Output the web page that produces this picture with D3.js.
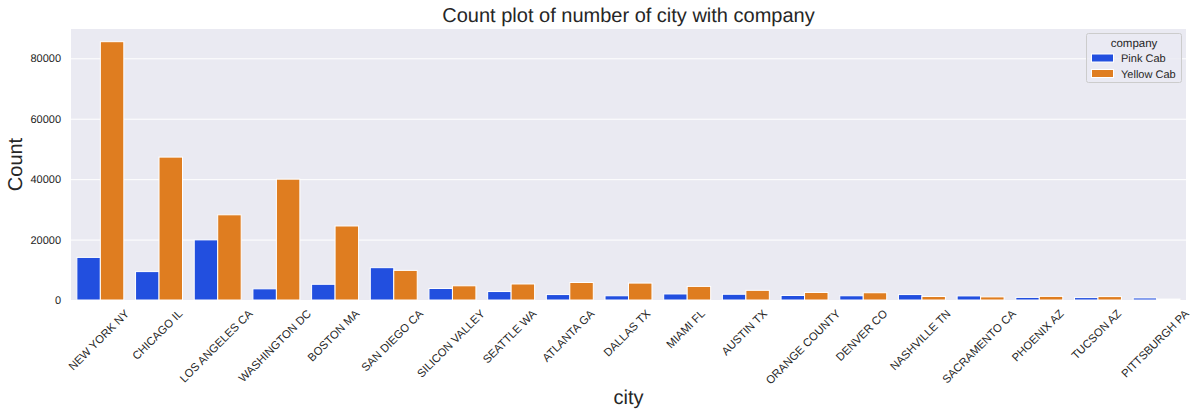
<!DOCTYPE html>
<html>
<head>
<meta charset="utf-8">
<script src="https://cdn.jsdelivr.net/npm/d3@7"></script>
<style>
  html, body { margin: 0; padding: 0; background: #fff; }
  svg { opacity: 0.999; }
  text { font-family: "Liberation Sans", Arial, sans-serif; fill: #262626; text-rendering: geometricPrecision; }
</style>
</head>
<body>
<svg id="chart"></svg>
<script>
const cities = ["NEW YORK NY", "CHICAGO IL", "LOS ANGELES CA", "WASHINGTON DC", "BOSTON MA", "SAN DIEGO CA",
    "SILICON VALLEY", "SEATTLE WA", "ATLANTA GA", "DALLAS TX", "MIAMI FL", "AUSTIN TX", "ORANGE COUNTY",
    "DENVER CO", "NASHVILLE TN", "SACRAMENTO CA", "PHOENIX AZ", "TUCSON AZ", "PITTSBURGH PA"];
const companies = ["Pink Cab", "Yellow Cab"];
const pinkCab = [14100, 9400, 19900, 3700, 5200, 10700, 3800, 2800, 1800, 1400, 2000, 1900, 1500, 1400, 1800, 1350, 860, 800, 680];
const yellowCab = [85500, 47300, 28200, 40000, 24500, 9800, 4700, 5300, 5800, 5600, 4500, 3200, 2500, 2400, 1150, 1030, 1200, 1130, 300];
const yTicks = [0, 20000, 40000, 60000, 80000];
const colors = ["#224fdf", "#df7d20"];

// layout
const margin = {top: 29, right: 12, bottom: 115, left: 71};
const width = 1198 - margin.left - margin.right;
const height = 415 - margin.top - margin.bottom;

const svg = d3.select("#chart")
    .attr("width", 1198)
    .attr("height", 415)
    .style("display", "block")
    .append("g")
    .attr("transform", "translate(" + margin.left + "," + margin.top + ")");

svg.append("rect")
    .attr("width", width)
    .attr("height", height)
    .attr("fill", "#eaeaf2");

const x = d3.scaleBand().domain(cities).range([0, width]).paddingInner(0).paddingOuter(0);
const xInner = d3.scaleBand().domain(companies).range([x.bandwidth() * 0.1, x.bandwidth() * 0.9]);
const y = d3.scaleLinear().domain([0, 89700]).range([height, 0]);

// y axis with gridlines
const yAxis = svg.append("g")
    .call(d3.axisLeft(y).tickValues(yTicks).tickFormat(d3.format("d")).tickSize(0).tickPadding(10));
yAxis.select(".domain").remove();
yAxis.selectAll("text").style("font-size", "11px");
yAxis.selectAll("line")
    .attr("x2", width)
    .attr("stroke", "#fff")
    .attr("stroke-width", 1);

// bars
const rows = cities.map((c, i) => ({city: c, values: [pinkCab[i], yellowCab[i]]}));
svg.selectAll(".city")
    .data(rows)
    .enter()
    .append("g")
    .attr("class", "city")
    .attr("transform", d => "translate(" + x(d.city) + ",0)")
    .selectAll("rect")
    .data(d => d.values.map((v, i) => ({company: companies[i], value: v, color: colors[i]})))
    .enter()
    .append("rect")
    .attr("x", d => xInner(d.company))
    .attr("y", d => y(d.value))
    .attr("width", xInner.bandwidth())
    .attr("height", d => height - y(d.value))
    .attr("fill", d => d.color)
    .attr("stroke", "#fff")
    .attr("stroke-width", 1);

// x axis, labels rotated round their own centre
const xAxis = svg.append("g")
    .attr("transform", "translate(0," + height + ")")
    .call(d3.axisBottom(x).tickSize(0));
xAxis.select(".domain").remove();
xAxis.selectAll("text")
    .style("font-size", "11.3px")
    .style("text-anchor", "middle")
    .attr("dy", null)
    .attr("y", null)
    .attr("dominant-baseline", "central")
    .attr("transform", function() {
        const half = this.getComputedTextLength() / 2;
        const off = 8.7 + (half + 5) * Math.SQRT1_2;
        return "translate(-1," + off + ")rotate(-45)";
    });

// titles
svg.append("text")
    .attr("x", width / 2)
    .attr("y", -7)
    .attr("text-anchor", "middle")
    .style("font-size", "20px")
    .text("Count plot of number of city with company");
svg.append("text")
    .attr("x", width / 2)
    .attr("y", height + 104)
    .attr("text-anchor", "middle")
    .style("font-size", "20px")
    .text("city");
svg.append("text")
    .attr("transform", "translate(-49," + (height / 2) + ")rotate(-90)")
    .attr("text-anchor", "middle")
    .style("font-size", "20px")
    .text("Count");

// legend
const legend = svg.append("g")
    .attr("transform", "translate(" + (1086 - margin.left) + "," + (33 - margin.top) + ")");
legend.append("rect")
    .attr("x", 0.5)
    .attr("y", 0.5)
    .attr("width", 95)
    .attr("height", 49)
    .attr("rx", 2)
    .attr("fill", "#eaeaf2")
    .attr("fill-opacity", 0.8)
    .attr("stroke", "#cccccc");
legend.append("text")
    .attr("x", 48)
    .attr("y", 13.5)
    .attr("text-anchor", "middle")
    .style("font-size", "11.5px")
    .text("company");
companies.forEach(function(name, i) {
    legend.append("rect")
        .attr("x", 5.5)
        .attr("y", 21 + i * 15.5)
        .attr("width", 22)
        .attr("height", 8)
        .attr("fill", colors[i])
        .attr("stroke", "#fff");
    legend.append("text")
        .attr("x", 35)
        .attr("y", 29 + i * 15.5)
        .style("font-size", "11px")
        .text(name);
});
</script>
</body>
</html>
